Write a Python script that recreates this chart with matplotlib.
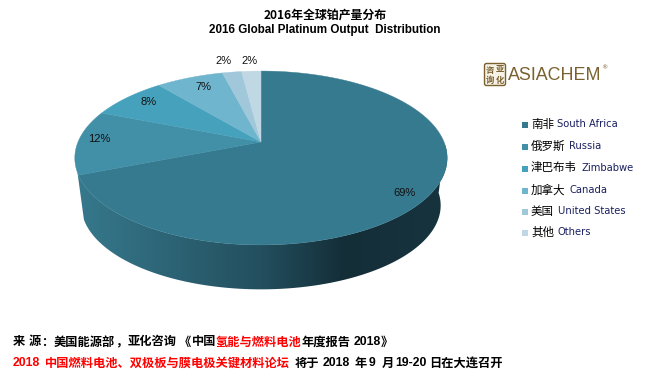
import matplotlib
matplotlib.use('Agg')
import matplotlib.pyplot as plt
import numpy as np
from matplotlib.colors import LinearSegmentedColormap
from matplotlib.patches import FancyBboxPatch, Polygon

plt.rcParams['font.family'] = ['Noto Sans CJK SC', 'DejaVu Sans']

# data
values = [69, 12, 8, 7, 2, 2]
names_cn = ['南非', '俄罗斯', '津巴布韦', '加拿大', '美国', '其他']
names_en = ['South Africa', 'Russia', 'Zimbabwe', 'Canada', 'United States', 'Others']
colors = ['#367a90', '#428fa8', '#46a2bc', '#6fb5cd', '#a0c8da', '#c0d8e3']

# label positions in pixels
label_xy = [(404, 193), (99, 139), (149, 102), (203, 87), (224, 61), (249, 61)]
en_x = [557, 569, 581, 569, 558, 557]
legend_y = [124, 146, 168, 190, 211, 232]

PX = 0.72  # px to pt at dpi 100
RED = '#ff0000'

fig = plt.figure(figsize=(6.5, 3.82), dpi=100)
ax = fig.add_axes([0, 0, 1, 1])


def rim(theta, cx=261, cy=142, scale=1.0):
    # circle seen in perspective, theta clockwise from the top
    u = np.sin(theta)
    v = np.cos(theta)
    d = 1 + 0.184 * v
    return cx + scale * 183 * u / d, cy - scale * 84 * v / d


# side of the disc
t = np.radians(np.linspace(92, 250, 200))
x1, y1 = rim(t)
x2, y2 = rim(t, cy=190, scale=0.965)
side = Polygon(np.r_[np.c_[x1, y1], np.c_[x2, y2][::-1]], closed=True, fc='none', ec='none')
ax.add_patch(side)
cmap = LinearSegmentedColormap.from_list('side', [(0, '#377a8e'), (0.5, '#234f5e'),
                                                  (0.72, '#142e38'), (1, '#17343e')])
grad = ax.imshow(np.linspace(0, 1, 256)[None, :], extent=(72, 450, 300, 60), cmap=cmap,
                 aspect='auto', zorder=1)
grad.set_clip_path(side)

# top of the disc, clockwise from twelve o'clock
edges = np.cumsum([0] + values) / sum(values) * 2 * np.pi
for i in range(len(values)):
    t = np.linspace(edges[i], edges[i + 1], 200)
    xs, ys = rim(t)
    ax.fill(np.r_[261, xs], np.r_[142, ys], color=colors[i], lw=0.3, zorder=2)
    ax.text(label_xy[i][0], label_xy[i][1], f'{values[i]}%', fontsize=10.5 * PX + 0.5,
            family='Liberation Sans', color='#111111', ha='center', va='center', zorder=3)

# legend
for i in range(len(values)):
    ax.scatter(525, legend_y[i] + 1, s=20, marker='s', color=colors[i], lw=0)
    ax.text(531, legend_y[i], names_cn[i], fontsize=8.3, color='black', va='center')
    ax.text(en_x[i], legend_y[i], names_en[i], fontsize=7.2, family='DejaVu Sans',
            color='#1a2060', va='center')

# titles
ax.text(325, 15, '2016年全球铂产量分布', fontsize=8.6, weight='bold', ha='center', va='center')
ax.text(325, 30, '2016 Global Platinum Output  Distribution', fontsize=8.4, weight='bold',
        family='Liberation Sans', ha='center', va='center')

# logo
BROWN = '#7a6230'
ax.add_patch(FancyBboxPatch((485, 64), 20, 21, boxstyle='round,pad=0.5,rounding_size=2',
                            fc='#f6f2e6', ec=BROWN, lw=1))
for ch, px, py in [('亚', 500, 70), ('化', 500, 80), ('咨', 490, 70), ('询', 490, 80)]:
    ax.text(px, py, ch, fontsize=6, color=BROWN, ha='center', va='center', weight='bold')
ax.text(508, 76, 'ASIACHEM', fontsize=12.9, color=BROWN, family='Liberation Sans',
        va='center', ha='left')
ax.text(604, 68, '®', fontsize=4.5, color=BROWN, family='DejaVu Sans', ha='center', va='center')

# footer, pieces with their own colours
line1 = [(13, '来', 'black'), (29, '源', 'black'), (41, '：', 'black'), (54, '美国能源部', 'black'),
         (115, '，', 'black'), (128, '亚化咨询', 'black'), (179, '《', 'black'), (192, '中国', 'black'),
         (216, '氢能与燃料电池', RED), (302, '年度报告', 'black'), (354, '2018', 'black'),
         (381, '》', 'black')]
line2 = [(13, '2018', RED), (45, '中国燃料电池、双极板与膜电极关键材料论坛', RED),
         (295, '将于', 'black'), (323, '2018', 'black'), (355, '年', 'black'), (369, '9', 'black'),
         (382, '月', 'black'), (395, '19-20', 'black'), (429, '日在大连召开', 'black')]
for y, line in [(342, line1), (363, line2)]:
    for x, s, c in line:
        ax.text(x, y, s, fontsize=8.8, weight='bold', color=c, va='center', ha='left',
                family=['Liberation Sans', 'Noto Sans CJK SC'] if s[0].isdigit() else ['Noto Sans CJK SC'])

ax.set_xlim(0, 650)
ax.set_ylim(382, 0)
ax.axis('off')

fig.savefig('out.png', dpi=100)
